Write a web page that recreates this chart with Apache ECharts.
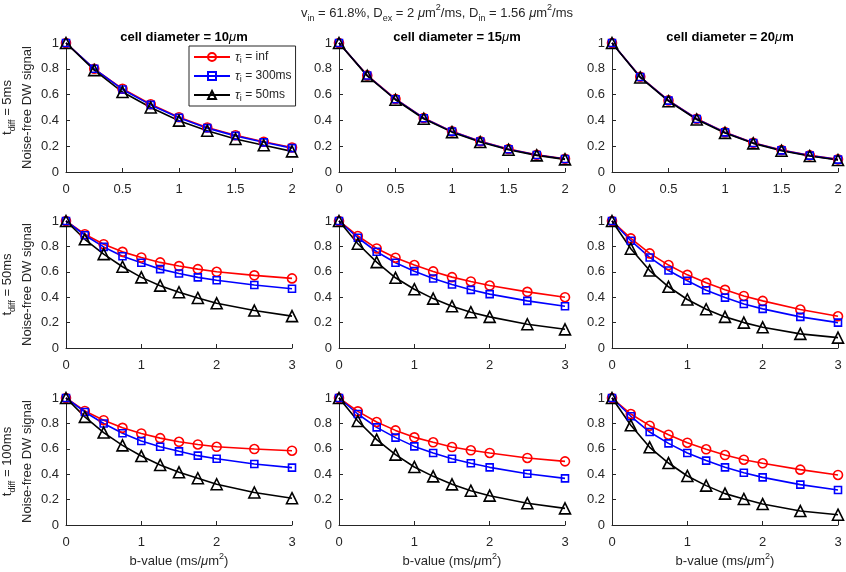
<!DOCTYPE html>
<html>
<head>
<meta charset="utf-8">
<script src="https://cdn.jsdelivr.net/npm/echarts@6/dist/echarts.min.js"></script>
<style>
html,body{margin:0;padding:0;background:#fff;}
#chart{width:846px;height:572px;}
</style>
</head>
<body>
<div id="chart"></div>
<script>
// ---- data ----
const bShort = [0, 0.25, 0.5, 0.75, 1, 1.25, 1.5, 1.75, 2];
const bLong = [0, 0.25, 0.5, 0.75, 1, 1.25, 1.5, 1.75, 2, 2.5, 3];

const cellDiameters = ['10', '15', '20'];
const tdiffLabels = ['5ms', '50ms', '100ms'];
const tauLabels = ['inf', '300ms', '50ms'];

// tdiff = 5 ms
const d10_t5_inf = [1, 0.80, 0.645, 0.525, 0.425, 0.345, 0.285, 0.235, 0.19];
const d10_t5_300 = [1, 0.80, 0.64, 0.52, 0.42, 0.34, 0.28, 0.23, 0.185];
const d10_t5_50  = [1, 0.79, 0.62, 0.50, 0.398, 0.32, 0.256, 0.207, 0.16];
const d15_t5_inf = [1, 0.749, 0.566, 0.419, 0.315, 0.238, 0.178, 0.134, 0.103];
const d15_t5_300 = [1, 0.748, 0.564, 0.417, 0.313, 0.236, 0.176, 0.132, 0.101];
const d15_t5_50  = [1, 0.745, 0.56, 0.413, 0.309, 0.232, 0.173, 0.129, 0.098];
const d20_t5_inf = [1, 0.738, 0.555, 0.413, 0.309, 0.227, 0.17, 0.129, 0.098];
const d20_t5_300 = [1, 0.736, 0.553, 0.411, 0.307, 0.225, 0.168, 0.127, 0.096];
const d20_t5_50  = [1, 0.733, 0.549, 0.407, 0.303, 0.222, 0.165, 0.124, 0.093];

// tdiff = 50 ms
const d10_t50_inf = [1, 0.896, 0.817, 0.757, 0.713, 0.674, 0.645, 0.621, 0.60, 0.572, 0.548];
const d10_t50_300 = [1, 0.888, 0.796, 0.723, 0.671, 0.621, 0.587, 0.556, 0.533, 0.496, 0.467];
const d10_t50_50  = [1, 0.856, 0.739, 0.64, 0.556, 0.491, 0.439, 0.394, 0.352, 0.295, 0.251];
const d15_t50_inf = [1, 0.882, 0.784, 0.711, 0.653, 0.603, 0.558, 0.524, 0.492, 0.442, 0.40];
const d15_t50_300 = [1, 0.868, 0.758, 0.671, 0.605, 0.547, 0.50, 0.458, 0.424, 0.371, 0.329];
const d15_t50_50  = [1, 0.821, 0.676, 0.553, 0.463, 0.389, 0.329, 0.282, 0.245, 0.187, 0.147];
const d20_t50_inf = [1, 0.863, 0.745, 0.653, 0.576, 0.513, 0.458, 0.41, 0.371, 0.303, 0.25];
const d20_t50_300 = [1, 0.845, 0.713, 0.61, 0.529, 0.455, 0.397, 0.347, 0.308, 0.245, 0.20];
const d20_t50_50  = [1, 0.782, 0.61, 0.482, 0.382, 0.305, 0.245, 0.20, 0.163, 0.111, 0.082];

// tdiff = 100 ms
const d10_t100_inf = [1, 0.898, 0.825, 0.765, 0.721, 0.684, 0.655, 0.634, 0.616, 0.598, 0.585];
const d10_t100_300 = [1, 0.89, 0.799, 0.723, 0.661, 0.616, 0.58, 0.546, 0.522, 0.48, 0.452];
const d10_t100_50  = [1, 0.851, 0.728, 0.627, 0.543, 0.473, 0.415, 0.368, 0.321, 0.256, 0.211];
const d15_t100_inf = [1, 0.895, 0.811, 0.745, 0.69, 0.651, 0.614, 0.588, 0.567, 0.528, 0.501];
const d15_t100_300 = [1, 0.874, 0.769, 0.688, 0.619, 0.567, 0.522, 0.486, 0.454, 0.404, 0.367];
const d15_t100_50  = [1, 0.819, 0.672, 0.554, 0.457, 0.383, 0.32, 0.27, 0.231, 0.171, 0.131];
const d20_t100_inf = [1, 0.874, 0.782, 0.711, 0.648, 0.596, 0.551, 0.514, 0.486, 0.436, 0.394];
const d20_t100_300 = [1, 0.856, 0.732, 0.643, 0.567, 0.507, 0.454, 0.412, 0.375, 0.318, 0.276];
const d20_t100_50  = [1, 0.785, 0.612, 0.488, 0.386, 0.31, 0.247, 0.205, 0.165, 0.11, 0.081];

const panelData = [
  [[d10_t5_inf, d10_t5_300, d10_t5_50], [d15_t5_inf, d15_t5_300, d15_t5_50], [d20_t5_inf, d20_t5_300, d20_t5_50]],
  [[d10_t50_inf, d10_t50_300, d10_t50_50], [d15_t50_inf, d15_t50_300, d15_t50_50], [d20_t50_inf, d20_t50_300, d20_t50_50]],
  [[d10_t100_inf, d10_t100_300, d10_t100_50], [d15_t100_inf, d15_t100_300, d15_t100_50], [d20_t100_inf, d20_t100_300, d20_t100_50]]
];

// ---- layout / style ----
const AX = '#262626';
const FONT = 'Liberation Sans, Arial, Helvetica, sans-serif';
const colLeft = [66, 339, 612];
const colWidth = 226;
const rowTop = [43, 221, 398];
const rowHeight = [129, 127, 127];
const colors = ['#ff0000', '#0000ff', '#000000'];
const symbols = ['circle', 'rect', 'triangle'];
const symSizes = [9, 7, 11];

const richBase = {
  sub: { fontSize: 9, lineHeight: 10, verticalAlign: 'bottom', fontFamily: FONT, color: AX },
  sup: { fontSize: 9, lineHeight: 10, verticalAlign: 'top', fontFamily: FONT, color: AX },
  it: { fontStyle: 'italic', fontFamily: FONT, color: AX, fontSize: 13 }
};

const grids = [], xAxes = [], yAxes = [], series = [], titles = [];
let gi = 0;
for (let r = 0; r < 3; r++) {
  for (let c = 0; c < 3; c++) {
    grids.push({ left: colLeft[c], top: rowTop[r], width: colWidth, height: rowHeight[r],
      containLabel: false, outerBoundsMode: 'none' });
    const xs = r === 0 ? bShort : bLong;
    const xmax = r === 0 ? 2 : 3;
    const xint = r === 0 ? 0.5 : 1;
    const xa = {
      type: 'value', gridIndex: gi, min: 0, max: xmax, interval: xint,
      axisLine: { show: true, lineStyle: { color: AX, width: 1 } },
      axisTick: { show: true, inside: true, length: 4, lineStyle: { color: AX } },
      axisLabel: { color: AX, fontSize: 13, fontFamily: FONT, margin: 11 },
      splitLine: { show: false }
    };
    if (r === 2) {
      xa.name = 'b-value (ms/{it|μ}m{sup|2})';
      xa.nameLocation = 'middle';
      xa.nameGap = 27;
      xa.nameTextStyle = { color: AX, fontSize: 13, fontFamily: FONT, lineHeight: 18, rich: richBase };
    }
    xAxes.push(xa);
    const ya = {
      type: 'value', gridIndex: gi, min: 0, max: 1, interval: 0.2,
      axisLine: { show: true, lineStyle: { color: AX, width: 1 } },
      axisTick: { show: true, inside: true, length: 4, lineStyle: { color: AX } },
      axisLabel: { color: AX, fontSize: 13, fontFamily: FONT, margin: 7 },
      splitLine: { show: false }
    };
    if (c === 0) {
      ya.name = 't{sub|diff} = ' + tdiffLabels[r] + '\nNoise-free DW signal';
      ya.nameLocation = 'middle';
      ya.nameRotate = 90;
      ya.nameGap = 27;
      ya.nameTextStyle = { color: AX, fontSize: 13, fontFamily: FONT, lineHeight: 20, rich: {
        sub: { fontSize: 9, lineHeight: 12, verticalAlign: 'bottom', fontFamily: FONT, color: AX }
      } };
    }
    yAxes.push(ya);
    const ds = panelData[r][c];
    for (let s = 0; s < 3; s++) {
      series.push({
        type: 'line', name: 'tau' + s, xAxisIndex: gi, yAxisIndex: gi,
        data: xs.map((x, i) => [x, ds[s][i]]),
        symbol: symbols[s], symbolSize: symSizes[s], showAllSymbol: true,
        clip: false, animation: false,
        lineStyle: { color: colors[s], width: 1.6 },
        itemStyle: { color: 'rgba(255,255,255,0)', borderColor: colors[s], borderWidth: 1.6 },
        emphasis: { disabled: true }
      });
    }
    gi++;
  }
}

for (let c = 0; c < 3; c++) {
  titles.push({
    text: 'cell diameter = ' + cellDiameters[c] + '{mu|μ}m',
    left: colLeft[c] + colWidth / 2, top: 26, textAlign: 'center',
    textStyle: { color: '#000', fontSize: 13, fontWeight: 'bold', fontFamily: FONT,
      rich: { mu: { fontStyle: 'italic', fontWeight: 'normal', fontSize: 13, fontFamily: FONT, color: '#000' } } }
  });
}
titles.push({
  text: 'v{sub|in} = 61.8%, D{sub|ex} = 2 {it|μ}m{sup|2}/ms, D{sub|in} = 1.56 {it|μ}m{sup|2}/ms',
  left: 432, top: -2, textAlign: 'center',
  textStyle: { color: AX, fontSize: 13, fontWeight: 'normal', fontFamily: FONT, lineHeight: 20, rich: richBase }
});

const legendNames = ['tau0', 'tau1', 'tau2'];
const option = {
  backgroundColor: '#fff',
  animation: false,
  title: titles,
  grid: grids,
  xAxis: xAxes,
  yAxis: yAxes,
  series: series,
  legend: {
    data: legendNames,
    orient: 'vertical', left: 189, top: 46,
    itemWidth: 36, itemHeight: 10, itemGap: 3,
    padding: [3, 4, 3, 4],
    backgroundColor: '#fff', borderColor: AX, borderWidth: 1,
    selectedMode: false,
    formatter: function (n) { return '{it|τ}{sub|i} = ' + tauLabels[legendNames.indexOf(n)]; },
    textStyle: { color: AX, fontSize: 12, fontFamily: FONT, lineHeight: 16, rich: {
      it: { fontStyle: 'italic', fontSize: 13, fontFamily: FONT, color: AX },
      sub: { fontSize: 9, lineHeight: 9, verticalAlign: 'bottom', fontFamily: FONT, color: AX }
    } }
  }
};

const chart = echarts.init(document.getElementById('chart'), null, { renderer: 'canvas' });
chart.setOption(option);
</script>
</body>
</html>
